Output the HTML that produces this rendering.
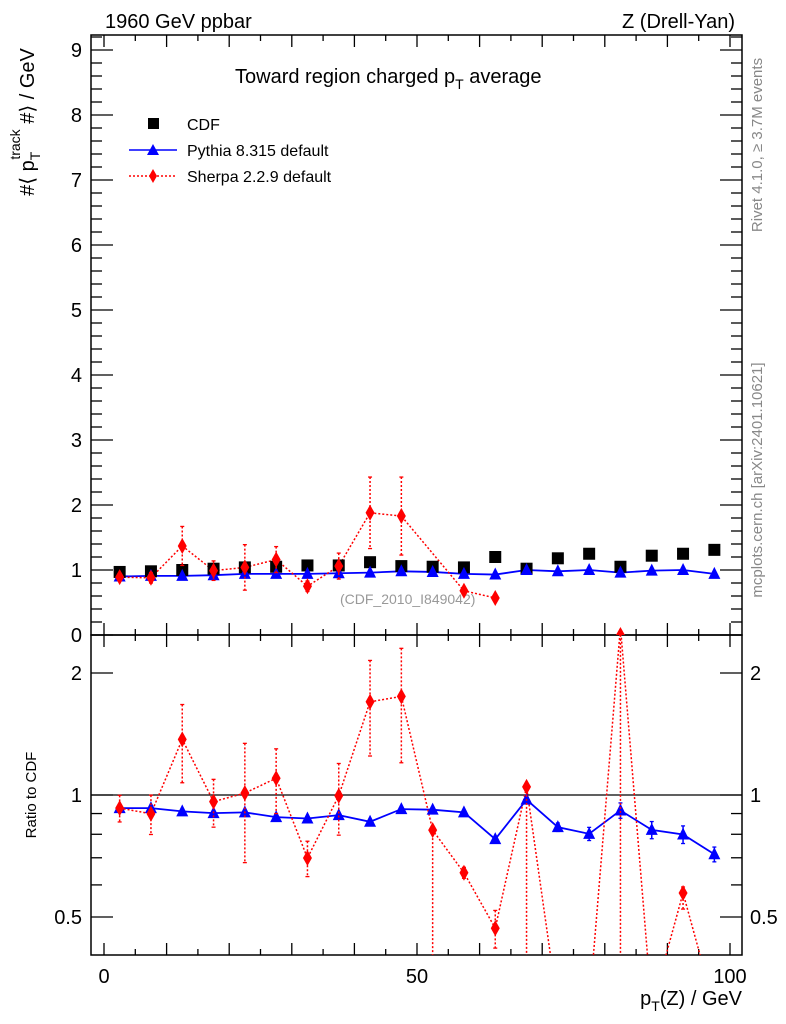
<!DOCTYPE html>
<html><head><meta charset="utf-8"><style>
body{margin:0;background:#fff;}
svg{display:block;font-family:"Liberation Sans",sans-serif;}
</style></head><body>
<svg id="c" width="786" height="1024" viewBox="0 0 786 1024">
<defs>
<clipPath id="clipTop"><rect x="91" y="35" width="651" height="600"/></clipPath>
<clipPath id="clipBot"><rect x="91" y="635" width="651" height="320"/></clipPath>
</defs>
<text x="105" y="28" font-size="20">1960 GeV ppbar</text>
<text x="735" y="28" font-size="20" text-anchor="end">Z (Drell-Yan)</text>
<text x="235" y="83" font-size="20">Toward region charged p<tspan font-size="14" dy="6">T</tspan><tspan dy="-6"> average</tspan></text>
<text x="340" y="604" font-size="14" fill="#999">(CDF_2010_I849042)</text>
<text transform="translate(762,145) rotate(-90)" font-size="15" fill="#888" text-anchor="middle">Rivet 4.1.0, ≥ 3.7M events</text>
<text transform="translate(762,480) rotate(-90)" font-size="15" fill="#888" text-anchor="middle">mcplots.cern.ch [arXiv:2401.10621]</text>
<text transform="translate(34,122) rotate(-90)" font-size="20" text-anchor="middle">#⟨ p<tspan font-size="14" dy="6">T</tspan><tspan font-size="14" dx="-8" dy="-20">track</tspan><tspan dy="14"> #⟩ / GeV</tspan></text>
<text transform="translate(36,795) rotate(-90)" font-size="15" text-anchor="middle">Ratio to CDF</text>
<text x="742" y="1005" font-size="20" text-anchor="end">p<tspan font-size="14" dy="6">T</tspan><tspan dy="-6">(Z) / GeV</tspan></text>
<g>
<rect x="148" y="118" width="11" height="11" fill="#000"/>
<text x="187" y="130" font-size="16">CDF</text>
<line x1="129" y1="150" x2="177" y2="150" stroke="#00f" stroke-width="1.5"/>
<polygon points="153,144 147,155 159,155" fill="#00f"/>
<text x="187" y="156" font-size="16">Pythia 8.315 default</text>
<line x1="129" y1="176" x2="177" y2="176" stroke="#f00" stroke-width="1.5" stroke-dasharray="2,2"/>
<polygon points="153,169 157,176 153,183 149,176" fill="#f00"/>
<text x="187" y="182" font-size="16">Sherpa 2.2.9 default</text>
</g>
<g id="axes"></g>
<g id="marks"></g>
</svg>
<script>
const xCenters=[2.5,7.5,12.5,17.5,22.5,27.5,32.5,37.5,42.5,47.5,52.5,57.5,62.5,67.5,72.5,77.5,82.5,87.5,92.5,97.5];
const cdfValues=[0.97,0.98,1.0,1.02,1.04,1.05,1.07,1.07,1.12,1.06,1.05,1.04,1.2,1.02,1.18,1.25,1.05,1.22,1.25,1.31];
const pythiaValues=[0.90,0.91,0.91,0.92,0.94,0.94,0.94,0.95,0.96,0.98,0.97,0.94,0.93,1.0,0.98,1.0,0.96,0.99,1.0,0.94];
const sherpaValues=[0.89,0.88,1.37,0.99,1.04,1.16,0.75,1.06,1.88,1.83,null,0.68,0.57,null,null,null,0.0,null,null,null];
const sherpaErrors=[0.05,0.08,0.3,0.15,0.35,0.2,0.08,0.2,0.55,0.6,0,0.03,0.03,0,0,0,0,0,0,0];
const pythiaRatio=[0.928,0.928,0.911,0.902,0.906,0.882,0.875,0.892,0.859,0.923,0.920,0.906,0.778,0.974,0.833,0.802,0.916,0.820,0.799,0.714];
const pythiaRatioErr=[0.01,0.01,0.01,0.01,0.01,0.01,0.01,0.01,0.01,0.01,0.01,0.01,0.01,0.01,0.02,0.03,0.04,0.04,0.04,0.03];
const sherpaRatio=[0.928,0.899,1.372,0.963,1.011,1.100,0.699,0.996,1.698,1.751,0.819,0.643,0.469,1.047,0.3,0.3,2.6,0.3,0.573,0.3];
const sherpaRatioErrUp=[0.07,0.1,0.3,0.13,0.33,0.2,0.07,0.2,0.45,0.55,0,0.02,0.05,0,0,0,0,0,0.02,0];
const sherpaRatioErrDown=[0.07,0.1,0.3,0.13,0.33,0.2,0.07,0.2,0.45,0.55,0.6,0.02,0.05,0.8,0,0,2.5,0,0.05,0];
const xTicks=[0,50,100];
const yTicks=[0,1,2,3,4,5,6,7,8,9];
const rTicks=[0.5,1,2];

const NS="http://www.w3.org/2000/svg";
const L=91,R=742,T=35,M=635,B=955;
const X=v=>104+v*6.26;
const Y=v=>635-v*65;
const YR=v=>795-Math.log2(v)*122;
const ax=document.getElementById('axes'),mk=document.getElementById('marks');
function el(tag,at,p){const e=document.createElementNS(NS,tag);for(const k in at)e.setAttribute(k,at[k]);(p||ax).appendChild(e);return e;}
function ln(x1,y1,x2,y2,p,st){return el('line',{x1,y1,x2,y2,stroke:st||'#000','stroke-width':1.3},p);}
const f1=el('rect',{x:L,y:T,width:R-L,height:M-T,fill:'none',stroke:'#000','stroke-width':1.5});


const f2=el('rect',{x:L,y:M,width:R-L,height:B-M,fill:'none',stroke:'#000','stroke-width':1.5});


for(let v=0;v<=100;v+=5){const big=v%10===0;const h=big?12:6;const x=X(v);
 ln(x,M,x,M-h);ln(x,T,x,T+h);ln(x,M,x,M+h);ln(x,B,x,B-h);}
xTicks.forEach(v=>{const t=el('text',{x:X(v),y:983,'font-size':20,'text-anchor':'middle'});t.textContent=v;
 
 });
for(let v=0;v<=9.2;v+=0.2){const big=Math.abs(v-Math.round(v))<1e-6;const h=big?22:11;const y=Y(v);
 ln(L,y,L+h,y);ln(R,y,R-h,y);}
yTicks.forEach(v=>{const t=el('text',{x:82,y:Y(v)+7,'font-size':20,'text-anchor':'end'});t.textContent=v;
 
 });
[0.5,0.6,0.7,0.8,0.9,1,2].forEach(v=>{const big=rTicks.includes(v);const h=big?22:11;const y=YR(v);
 ln(L,y,L+h,y);ln(R,y,R-h,y);});
rTicks.forEach(v=>{const t=el('text',{x:82,y:YR(v)+7,'font-size':20,'text-anchor':'end'});t.textContent=v;
 
 
 const t2=el('text',{x:750,y:YR(v)+7,'font-size':20});t2.textContent=v;
 
 });
ln(L,YR(1),R,YR(1));
const gT=el('g',{'clip-path':'url(#clipTop)'},mk),gB=el('g',{'clip-path':'url(#clipBot)'},mk);
function path(xs,ys,Yf,color,dash,g,name){
 const segs=[];let cur=[];let gap=0;
 xs.forEach((x,i)=>{if(ys[i]===null){gap++;}else{if(gap>1&&cur.length){segs.push(cur);cur=[];}gap=0;cur.push(X(x)+','+Yf(ys[i]));}});
 if(cur.length)segs.push(cur);
 segs.forEach(s=>{if(s.length<2)return;
 const p=el('polyline',{points:s.join(' '),fill:'none',stroke:color,'stroke-width':dash?1.5:1.8,'stroke-dasharray':dash?'2,2':'none'},g);
 
 });}
function tri(x,y,g){const p=el('polygon',{points:`${x},${y-7} ${x-6},${y+5} ${x+6},${y+5}`,fill:'#00f'},g);
 
 }
function dia(x,y,g){const p=el('polygon',{points:`${x},${y-8} ${x+4.5},${y} ${x},${y+8} ${x-4.5},${y}`,fill:'#f00'},g);
 
 }
function err(x,y1,y2,color,dash,g){const l=el('line',{x1:x,y1,x2:x,y2,stroke:color,'stroke-width':1.5,'stroke-dasharray':dash?'2,2':'none'},g);
 
 
 ln(x-2,y1,x+2,y1,g,color);ln(x-2,y2,x+2,y2,g,color);}
path(xCenters,pythiaValues,Y,'#00f',false,gT,'pythia-line');
path(xCenters,sherpaValues,Y,'#f00',true,gT,'sherpa-line');
xCenters.forEach((x,i)=>{
 const r=el('rect',{x:X(x)-6,y:Y(cdfValues[i])-6,width:12,height:12,fill:'#000'},gT);
 
 
 tri(X(x),Y(pythiaValues[i]),gT);
 if(sherpaValues[i]!==null){if(sherpaErrors[i]>0.04)err(X(x),Y(sherpaValues[i]+sherpaErrors[i]),Y(sherpaValues[i]-sherpaErrors[i]),'#f00',true,gT);
  dia(X(x),Y(sherpaValues[i]),gT);}
});
path(xCenters,pythiaRatio,YR,'#00f',false,gB,'pythia-ratio-line');
path(xCenters,sherpaRatio,YR,'#f00',true,gB,'sherpa-ratio-line');
xCenters.forEach((x,i)=>{
 if(pythiaRatioErr[i]>0.015)err(X(x),YR(pythiaRatio[i]+pythiaRatioErr[i]),YR(pythiaRatio[i]-pythiaRatioErr[i]),'#00f',false,gB);
 tri(X(x),YR(pythiaRatio[i]),gB);
 const s=sherpaRatio[i];
 if(sherpaRatioErrUp[i]+sherpaRatioErrDown[i]>0.03)err(X(x),YR(s+sherpaRatioErrUp[i]),YR(Math.max(s-sherpaRatioErrDown[i],0.3)),'#f00',true,gB);
 dia(X(x),YR(s),gB);
});
</script>
</body></html>
